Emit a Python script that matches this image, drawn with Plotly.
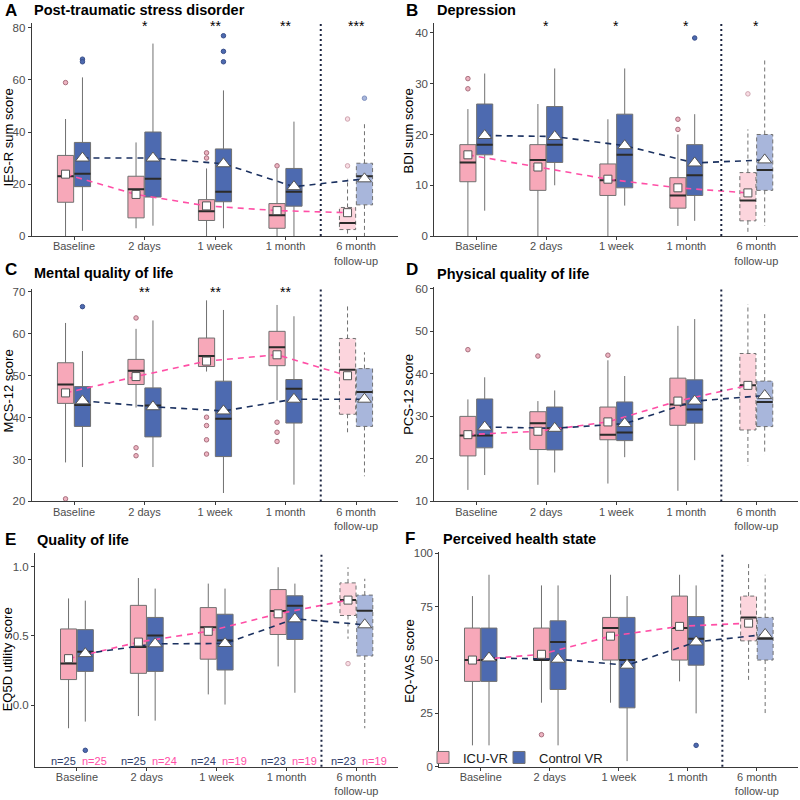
import plotly.graph_objects as go

FONT = "Liberation Sans, Arial, Helvetica, sans-serif"
TIMEPOINTS = ["Baseline", "2 days", "1 week", "1 month", "6 month<br>follow-up"]
GROUPS = ["ICU-VR", "Control VR"]

# ---------------- A: IES-R (PTSD) ----------------
A_icu_lo = [0, 3, 0, 0, 0]
A_icu_q1 = [13, 7, 6, 3, 2.5]
A_icu_med = [23, 18, 9.5, 8, 5]
A_icu_q3 = [31, 23, 14, 12.5, 11]
A_icu_hi = [45, 36, 26, 26, 22]
A_icu_mean = [23.8, 16, 11.6, 9.8, 9]
A_icu_out = [[59], [], [32, 30], [27], [45, 27]]
A_ctl_lo = [2, 4, 3, 0, 0]
A_ctl_q1 = [19, 15, 13.2, 11.5, 12]
A_ctl_med = [24, 22, 17, 17, 23]
A_ctl_q3 = [36, 40, 33.5, 26, 28]
A_ctl_hi = [61, 74, 56, 44, 44]
A_ctl_mean = [30, 30, 27.8, 19, 22]
A_ctl_out = [[68, 67], [], [77, 71, 67], [], [53]]
A_stars = ["", "*", "**", "**", "***"]

# ---------------- B: BDI (Depression) ----------------
B_icu_lo = [0, 0, 0, 2, 0.5]
B_icu_q1 = [10.7, 9, 8, 5.5, 3]
B_icu_med = [14.5, 15, 11, 8, 7]
B_icu_q3 = [18, 18, 14.2, 11.5, 12.5]
B_icu_hi = [25, 26, 23, 20, 21]
B_icu_mean = [16, 13.6, 11.2, 9.5, 8.5]
B_icu_out = [[31, 29], [], [], [23, 21], [28]]
B_ctl_lo = [5, 10, 6, 3, 2]
B_ctl_q1 = [16, 14.5, 9.5, 8, 9]
B_ctl_med = [18, 18, 16, 12, 13]
B_ctl_q3 = [26, 25.5, 24, 18, 20]
B_ctl_hi = [32, 33, 33, 24, 35]
B_ctl_mean = [19.8, 19.6, 17.8, 14.4, 15]
B_ctl_out = [[], [], [], [39], []]
B_stars = ["", "*", "*", "*", "*"]

# ---------------- C: MCS-12 ----------------
C_icu_lo = [29.3, 42.4, 51, 44.1, 36]
C_icu_q1 = [43.4, 47.9, 52.2, 52.4, 40.8]
C_icu_med = [47.9, 51.2, 54.7, 56.8, 51.4]
C_icu_q3 = [53.1, 53.9, 59, 60.6, 58.9]
C_icu_hi = [62.6, 61.2, 68, 66.9, 66.7]
C_icu_mean = [45.9, 49.8, 53.5, 55, 50]
C_icu_out = [[20.6], [63.8, 32.8, 30.9], [40.1, 38.1, 34.7, 31.3], [38.9, 36.5, 34.3], []]
C_ctl_lo = [28.2, 28.2, 22, 24, 26]
C_ctl_q1 = [37.9, 35.4, 30.7, 38.7, 37.9]
C_ctl_med = [43, 42.9, 39.7, 46.9, 46.1]
C_ctl_q3 = [47.4, 47.1, 48.7, 49.1, 51.7]
C_ctl_hi = [55.9, 63.2, 65.7, 64.2, 55.6]
C_ctl_mean = [44, 42.6, 41.6, 44.4, 44.4]
C_ctl_out = [[66.5], [], [], [], []]
C_stars = ["", "**", "**", "**", ""]

# ---------------- D: PCS-12 ----------------
D_icu_lo = [12.7, 13.9, 14.2, 12.5, 18.5]
D_icu_q1 = [20.7, 22.2, 24.5, 27.9, 26.8]
D_icu_med = [25.5, 28.4, 25.7, 32.8, 37.3]
D_icu_q3 = [30, 31.1, 32.2, 39, 44.8]
D_icu_hi = [34, 33.6, 43.2, 51.3, 56.4]
D_icu_mean = [25.7, 26.5, 28.7, 33.6, 37.3]
D_icu_out = [[45.7], [44.2], [44.4], [], []]
D_ctl_lo = [16.2, 16.8, 20.4, 19.7, 21]
D_ctl_q1 = [22.6, 22.1, 24.3, 28.4, 27.6]
D_ctl_med = [25.5, 27.2, 26.2, 31.6, 33.4]
D_ctl_q3 = [34.1, 32.2, 33.4, 38.6, 38.3]
D_ctl_hi = [39.2, 36.1, 39.5, 52.9, 54.7]
D_ctl_mean = [27.5, 27.2, 28.3, 33.6, 34.9]
D_ctl_out = [[], [], [], [], []]
D_stars = ["", "", "", "", ""]

# ---------------- E: EQ5D utility ----------------
E_icu_lo = [-0.166, -0.078, 0.078, 0.28, 0.479]
E_icu_q1 = [0.185, 0.23, 0.332, 0.51, 0.647]
E_icu_med = [0.30, 0.42, 0.562, 0.68, 0.758]
E_icu_q3 = [0.55, 0.72, 0.704, 0.834, 0.882]
E_icu_hi = [0.77, 0.917, 0.877, 0.995, 0.995]
E_icu_mean = [0.336, 0.455, 0.533, 0.659, 0.758]
E_icu_out = [[], [], [], [], [0.30]]
E_ctl_lo = [-0.118, -0.111, 0.005, 0.09, -0.166]
E_ctl_q1 = [0.244, 0.244, 0.254, 0.474, 0.355]
E_ctl_med = [0.386, 0.502, 0.467, 0.718, 0.682]
E_ctl_q3 = [0.545, 0.633, 0.656, 0.789, 0.794]
E_ctl_hi = [0.754, 0.841, 0.841, 0.877, 0.912]
E_ctl_mean = [0.372, 0.443, 0.445, 0.623, 0.58]
E_ctl_out = [[-0.325], [], [], [], []]
E_stars = ["", "", "", "", ""]
N_CTL = [25, 25, 24, 23, 23]
N_ICU = [25, 24, 19, 19, 19]

# ---------------- F: EQ-VAS ----------------
F_icu_lo = [10, 30, 30, 40, 40]
F_icu_q1 = [40, 50, 50, 50, 59]
F_icu_med = [50, 50, 65, 65, 70]
F_icu_q3 = [65, 65, 70, 80, 80]
F_icu_hi = [80, 85, 90, 90, 95]
F_icu_mean = [50, 52.7, 61.2, 65.8, 67.3]
F_icu_out = [[], [15], [], [], []]
F_ctl_lo = [10, 10, 2.6, 25, 25]
F_ctl_q1 = [40, 36.2, 27.6, 47.6, 50]
F_ctl_med = [50, 58.5, 50, 60, 60]
F_ctl_q3 = [65, 68.4, 70, 70.4, 70]
F_ctl_hi = [90, 85, 80, 85, 90]
F_ctl_mean = [51, 50.4, 47.6, 58.5, 62]
F_ctl_out = [[], [], [], [10], []]
F_stars = ["", "", "", "", ""]

# ---------------- styling ----------------
PINK = "#F7A8B9"
PINK_LIGHT = "#FCD5DD"
BLUE = "#4D6AB0"
BLUE_LIGHT = "#A8B6DB"
OUTLINE = "#707070"
MEDIAN = "#2B2B2B"
PINK_LINE = "#FF4FA6"
NAVY_LINE = "#1B3160"
BOX_W = 0.23
OFFSET = 0.12
W, H = 800, 800


def px_x(v):
    return v / W


def px_y(v):
    return 1 - v / H


panels = [
    dict(letter="A", title="Post-traumatic stress disorder", ytitle="IES-R sum score",
         icu=(A_icu_lo, A_icu_q1, A_icu_med, A_icu_q3, A_icu_hi, A_icu_mean, A_icu_out),
         ctl=(A_ctl_lo, A_ctl_q1, A_ctl_med, A_ctl_q3, A_ctl_hi, A_ctl_mean, A_ctl_out),
         stars=A_stars, yrange=[0, 82], ticks=[0, 20, 40, 60, 80], fmt="",
         xd=[31.7, 398.3], yd=[18, 234.3], letter_xy=(2.7, 5.5), title_xy=(32.3, 5.5),
         ytitle_xy=(8.3, 134)),
    dict(letter="B", title="Depression", ytitle="BDI sum score",
         icu=(B_icu_lo, B_icu_q1, B_icu_med, B_icu_q3, B_icu_hi, B_icu_mean, B_icu_out),
         ctl=(B_ctl_lo, B_ctl_q1, B_ctl_med, B_ctl_q3, B_ctl_hi, B_ctl_mean, B_ctl_out),
         stars=B_stars, yrange=[0, 42], ticks=[0, 10, 20, 30, 40], fmt="",
         xd=[434.3, 798.3], yd=[18, 234.3], letter_xy=(404, 5.5), title_xy=(435, 5),
         ytitle_xy=(408.3, 128)),
    dict(letter="C", title="Mental quality of life", ytitle="MCS-12 score",
         icu=(C_icu_lo, C_icu_q1, C_icu_med, C_icu_q3, C_icu_hi, C_icu_mean, C_icu_out),
         ctl=(C_ctl_lo, C_ctl_q1, C_ctl_med, C_ctl_q3, C_ctl_hi, C_ctl_mean, C_ctl_out),
         stars=C_stars, yrange=[20, 70.7], ticks=[20, 30, 40, 50, 60, 70], fmt="",
         xd=[31.7, 398.3], yd=[288, 503.3], letter_xy=(2.7, 268.5), title_xy=(32.3, 271.5),
         ytitle_xy=(8.3, 391.5)),
    dict(letter="D", title="Physical quality of life", ytitle="PCS-12 score",
         icu=(D_icu_lo, D_icu_q1, D_icu_med, D_icu_q3, D_icu_hi, D_icu_mean, D_icu_out),
         ctl=(D_ctl_lo, D_ctl_q1, D_ctl_med, D_ctl_q3, D_ctl_hi, D_ctl_mean, D_ctl_out),
         stars=D_stars, yrange=[10, 60.5], ticks=[10, 20, 30, 40, 50, 60], fmt="",
         xd=[434.3, 798.3], yd=[285.7, 503.3], letter_xy=(404, 268.5), title_xy=(435, 272.5),
         ytitle_xy=(408.3, 395)),
    dict(letter="E", title="Quality of life", ytitle="EQ5D utility score",
         icu=(E_icu_lo, E_icu_q1, E_icu_med, E_icu_q3, E_icu_hi, E_icu_mean, E_icu_out),
         ctl=(E_ctl_lo, E_ctl_q1, E_ctl_med, E_ctl_q3, E_ctl_hi, E_ctl_mean, E_ctl_out),
         stars=E_stars, yrange=[-0.443, 1.095], ticks=[0, 0.5, 1.0], fmt=".1f",
         xd=[35, 398.3], yd=[556, 772.3], letter_xy=(3.3, 542), title_xy=(35, 542),
         ytitle_xy=(7.5, 664)),
    dict(letter="F", title="Perceived health state", ytitle="EQ-VAS score",
         icu=(F_icu_lo, F_icu_q1, F_icu_med, F_icu_q3, F_icu_hi, F_icu_mean, F_icu_out),
         ctl=(F_ctl_lo, F_ctl_q1, F_ctl_med, F_ctl_q3, F_ctl_hi, F_ctl_mean, F_ctl_out),
         stars=F_stars, yrange=[0, 100.5], ticks=[0, 25, 50, 75, 100], fmt="",
         xd=[439.3, 798.3], yd=[555, 772.3], letter_xy=(403.3, 540.5), title_xy=(441, 541.5),
         ytitle_xy=(410, 665)),
]

fig = go.Figure()
annotations = []
shapes = []
layout_axes = {}

n_tp = len(TIMEPOINTS)
last = n_tp - 1
idx = list(range(n_tp))

for k, p in enumerate(panels, start=1):
    xa = "x" if k == 1 else f"x{k}"
    ya = "y" if k == 1 else f"y{k}"
    groups = [
        ("icu", p["icu"], -OFFSET, PINK, PINK_LIGHT, PINK_LINE, "square", 8,
         dict(fill="#EDB3C1", line="#A8707E"), dict(fill="#F8DCE3", line="#CFA6B1"), GROUPS[0], "legend"),
        ("ctl", p["ctl"], +OFFSET, BLUE, BLUE_LIGHT, NAVY_LINE, "triangle-up", 12,
         dict(fill="#4D6AB0", line="#3A4F8A"), dict(fill="#A8B6DB", line="#8293C0"), GROUPS[1], "legend2"),
    ]
    for gname, (lo, q1, med, q3, hi, mean, out), off, col, col_l, lcol, sym, msz, ocol, ocol_l, gtitle, leg in groups:
        pos = [i + off for i in idx]
        main = idx[:last]
        fig.add_trace(go.Box(
            x=[pos[i] for i in main], q1=[q1[i] for i in main], median=[med[i] for i in main],
            q3=[q3[i] for i in main], lowerfence=[lo[i] for i in main], upperfence=[hi[i] for i in main],
            width=BOX_W, whiskerwidth=0, boxpoints=False, fillcolor=col,
            line=dict(color=OUTLINE, width=1), xaxis=xa, yaxis=ya,
            name=gtitle, legend=leg, legendgroup=gname, showlegend=(k == 6), hoverinfo="skip"))
        # follow-up box (light fill, dashed outline)
        fig.add_trace(go.Box(
            x=[pos[last]], q1=[q1[last]], median=[med[last]], q3=[q3[last]],
            lowerfence=[q1[last]], upperfence=[q3[last]],
            width=BOX_W, whiskerwidth=0, boxpoints=False, fillcolor=col_l,
            line=dict(color=col_l, width=0), xaxis=xa, yaxis=ya,
            showlegend=False, hoverinfo="skip"))
        x0, x1, xc = pos[last] - BOX_W / 2, pos[last] + BOX_W / 2, pos[last]
        fig.add_trace(go.Scatter(
            x=[x0, x1, x1, x0, x0, None, xc, xc, None, xc, xc],
            y=[q1[last], q1[last], q3[last], q3[last], q1[last], None,
               q3[last], hi[last], None, q1[last], lo[last]],
            mode="lines", line=dict(color=OUTLINE, width=1, dash="4px,3px"),
            xaxis=xa, yaxis=ya, showlegend=False, hoverinfo="skip"))
        # medians
        mx, my = [], []
        for i in idx:
            mx += [pos[i] - BOX_W / 2, pos[i] + BOX_W / 2, None]
            my += [med[i], med[i], None]
        fig.add_trace(go.Scatter(x=mx, y=my, mode="lines", line=dict(color=MEDIAN, width=2),
                                 xaxis=xa, yaxis=ya, showlegend=False, hoverinfo="skip"))
        # outliers
        for sel, oc in ((idx[:last], ocol), ([last], ocol_l)):
            ox, oy = [], []
            for i in sel:
                for v in out[i]:
                    ox.append(pos[i])
                    oy.append(v)
            if ox:
                fig.add_trace(go.Scatter(x=ox, y=oy, mode="markers",
                                         marker=dict(symbol="circle", size=4.5, color=oc["fill"],
                                                     line=dict(color=oc["line"], width=1)),
                                         xaxis=xa, yaxis=ya, showlegend=False, hoverinfo="skip"))
    for gname, (lo, q1, med, q3, hi, mean, out), off, col, col_l, lcol, sym, msz, ocol, ocol_l, gtitle, leg in groups:
        pos = [i + off for i in idx]
        fig.add_trace(go.Scatter(x=pos, y=mean, mode="lines",
                                 line=dict(color=lcol, width=1.6, dash="6px,5px"),
                                 xaxis=xa, yaxis=ya, showlegend=False, hoverinfo="skip"))
    for gname, (lo, q1, med, q3, hi, mean, out), off, col, col_l, lcol, sym, msz, ocol, ocol_l, gtitle, leg in groups:
        pos = [i + off for i in idx]
        fig.add_trace(go.Scatter(x=pos, y=mean, mode="markers",
                                 marker=dict(symbol=sym, size=msz, color="white",
                                             line=dict(color="#555555", width=1)),
                                 xaxis=xa, yaxis=ya, showlegend=False, hoverinfo="skip"))

    xd = [px_x(p["xd"][0]), px_x(p["xd"][1])]
    yd = [px_y(p["yd"][1]), px_y(p["yd"][0])]
    xkey = "xaxis" if k == 1 else f"xaxis{k}"
    ykey = "yaxis" if k == 1 else f"yaxis{k}"
    layout_axes[xkey] = dict(
        domain=xd, anchor=ya, range=[-0.6, n_tp - 0.4], tickmode="array",
        tickvals=idx, ticktext=TIMEPOINTS, showline=True, linecolor="#3A3A3A", linewidth=1,
        ticks="outside", ticklen=3, tickcolor="#3A3A3A", showgrid=False, zeroline=False,
        ticklabelstandoff=-3,
        tickfont=dict(size=11, color="#4D4D4D", family=FONT), fixedrange=True)
    layout_axes[ykey] = dict(
        domain=yd, anchor=xa, range=p["yrange"], tickmode="array", tickvals=p["ticks"],
        tickformat=p["fmt"], showline=True, linecolor="#3A3A3A", linewidth=1,
        ticks="outside", ticklen=3, tickcolor="#3A3A3A", showgrid=False, zeroline=False,
        tickfont=dict(size=11.5, color="#4D4D4D", family=FONT), fixedrange=True)

    shapes.append(dict(type="line", xref=xa, yref=f"{ya} domain", x0=last - 0.5, x1=last - 0.5,
                       y0=0, y1=1, line=dict(color="#1C2541", width=2, dash="2px,3px"), layer="above"))

    annotations.append(dict(text=f"<b>{p['letter']}</b>", xref="paper", yref="paper",
                            x=px_x(p["letter_xy"][0]), y=px_y(p["letter_xy"][1]),
                            xanchor="left", yanchor="middle", showarrow=False,
                            font=dict(size=17, color="black", family=FONT)))
    annotations.append(dict(text=f"<b>{p['title']}</b>", xref="paper", yref="paper",
                            x=px_x(p["title_xy"][0]), y=px_y(p["title_xy"][1]),
                            xanchor="left", yanchor="middle", showarrow=False,
                            font=dict(size=14.5, color="black", family=FONT)))
    annotations.append(dict(text=p["ytitle"], xref="paper", yref="paper",
                            x=px_x(p["ytitle_xy"][0]), y=px_y(p["ytitle_xy"][1]),
                            xanchor="center", yanchor="middle", textangle=-90, showarrow=False,
                            font=dict(size=13, color="black", family=FONT)))
    for i, s in enumerate(p["stars"]):
        if s:
            annotations.append(dict(text=s, xref=xa, yref=f"{ya} domain", x=i, y=1.0,
                                    xanchor="center", yanchor="top", yshift=7, showarrow=False,
                                    font=dict(size=14, color="black", family=FONT)))
    if p["letter"] == "E":
        for i in idx:
            annotations.append(dict(text=f"n={N_CTL[i]}", xref=xa, yref=f"{ya} domain",
                                    x=i + 0.02, y=0.026, xanchor="right", yanchor="middle",
                                    showarrow=False, font=dict(size=11, color="#2B3A67", family=FONT)))
            annotations.append(dict(text=f"n={N_ICU[i]}", xref=xa, yref=f"{ya} domain",
                                    x=i + 0.05, y=0.026, xanchor="left", yanchor="middle",
                                    showarrow=False, font=dict(size=11, color=PINK_LINE, family=FONT)))

legend_style = dict(orientation="h", xanchor="left", yanchor="middle", y=px_y(763),
                    bgcolor="rgba(0,0,0,0)", font=dict(size=13, color="#1A1A1A", family=FONT),
                    itemwidth=30, tracegroupgap=0)

fig.update_layout(
    width=W, height=H, margin=dict(l=0, r=0, t=0, b=0),
    paper_bgcolor="white", plot_bgcolor="white",
    font=dict(family=FONT, color="black"),
    boxmode="overlay",
    annotations=annotations, shapes=shapes,
    legend=dict(x=px_x(423), **legend_style),
    legend2=dict(x=px_x(499), **legend_style),
    **layout_axes,
)

# remove the browser's default 8px page margin so the 800x800 figure fills the window
fig.write_html("out.html", config={"displayModeBar": False},
               post_script="document.body.style.margin='0px';document.body.style.padding='0px';")
